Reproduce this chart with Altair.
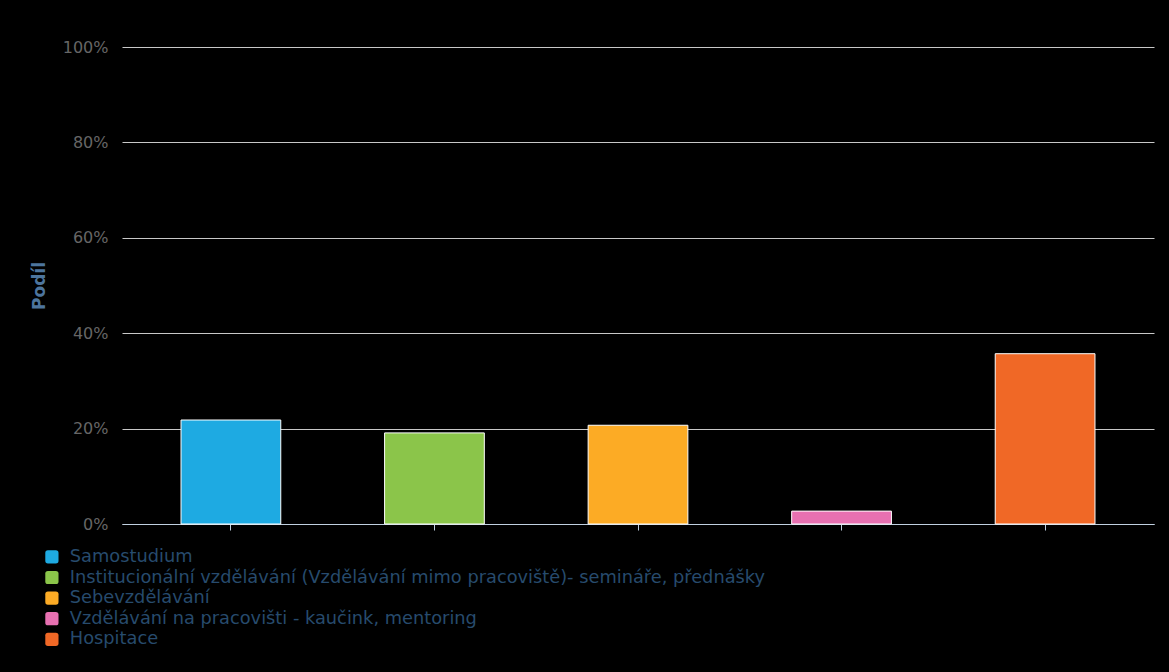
import altair as alt
import pandas as pd

categories = [
    "Samostudium",
    "Institucionální vzdělávání (Vzdělávání mimo pracoviště)- semináře, přednášky",
    "Sebevzdělávání",
    "Vzdělávání na pracovišti - kaučink, mentoring",
    "Hospitace",
]
values = [0.218, 0.191, 0.207, 0.027, 0.357]
colors = ["#1eaae2", "#8bc54a", "#fcab25", "#e770b1", "#f06826"]

df = pd.DataFrame({"kategorie": categories, "podil": values})

rounded = "M-1,-0.6 Q-1,-1 -0.6,-1 L0.6,-1 Q1,-1 1,-0.6 L1,0.6 Q1,1 0.6,1 L-0.6,1 Q-1,1 -1,0.6 Z"

chart = alt.Chart(df).mark_bar(stroke="#ffffff", strokeWidth=1).encode(
    x=alt.X("kategorie:N", sort=categories, title=None,
            scale=alt.Scale(paddingInner=0.51, paddingOuter=0.29),
            axis=alt.Axis(labels=False, domainColor="#C0D0E0", tickColor="#C0D0E0",
                          tickSize=6, grid=False)),
    y=alt.Y("podil:Q", title="Podíl",
            scale=alt.Scale(domain=[0, 1]),
            axis=alt.Axis(format=".0%", values=[0, 0.2, 0.4, 0.6, 0.8, 1.0],
                          labelColor="#666666", labelFontSize=16, labelFont="DejaVu Sans",
                          labelPadding=14, ticks=False, domain=False,
                          gridColor="#C8C8C8", gridWidth=1,
                          titleColor="#4d759e", titleFontWeight="bold", titleFontSize=17,
                          titleFont="DejaVu Sans", titlePadding=14)),
    color=alt.Color("kategorie:N", sort=categories,
                    scale=alt.Scale(domain=categories, range=colors),
                    legend=alt.Legend(title=None, orient="none", legendX=-79, legendY=501,
                                      direction="vertical", labelColor="#274b6d",
                                      labelFont="DejaVu Sans", labelFontSize=17.8,
                                      labelLimit=1000, symbolType=rounded, symbolSize=175,
                                      symbolStrokeWidth=0, symbolOpacity=1,
                                      rowPadding=1.6, labelOffset=9, padding=0)),
).properties(
    width=1032,
    height=477,
    autosize=alt.AutoSizeParams(type="none"),
    padding={"left": 122, "top": 47, "right": 15, "bottom": 148},
).configure(background="#000000").configure_view(stroke=None)

chart.save("out.html", embed_options={"renderer": "svg", "actions": False})
